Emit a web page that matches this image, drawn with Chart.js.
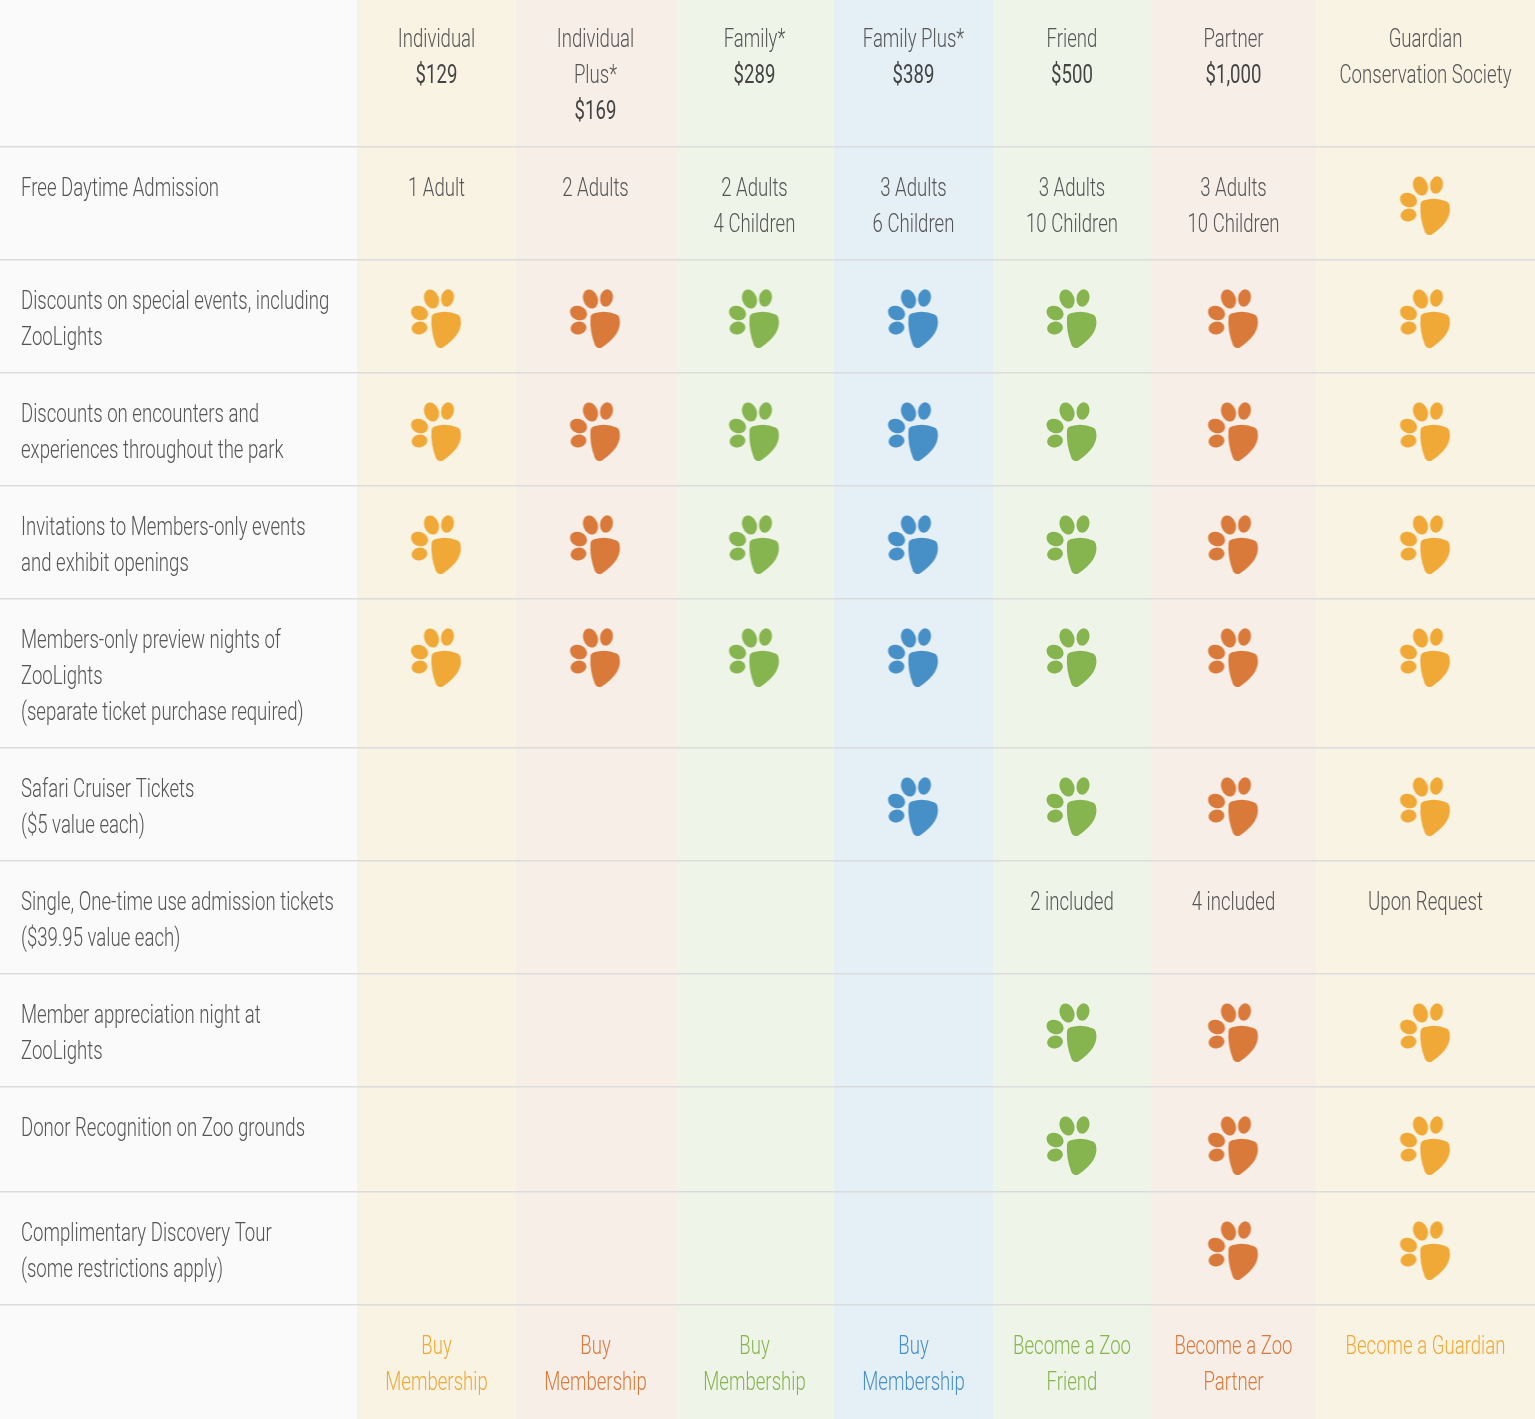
<!DOCTYPE html>
<html>
<head>
<meta charset="utf-8">
<script src="https://cdn.jsdelivr.net/npm/chart.js@4.4.1/dist/chart.umd.min.js"></script>
<style>
  body { margin: 0; background: #fafafa; }
  #tbl { display: block; }
</style>
</head>
<body>
<canvas id="tbl" width="1535" height="1419"></canvas>
<script>
// membership tiers (columns)
const tierNames = [['Individual'], ['Individual', 'Plus*'], ['Family*'], ['Family Plus*'], ['Friend'], ['Partner'], ['Guardian', 'Conservation Society']]
const tierPrices = ['$129', '$169', '$289', '$389', '$500', '$1,000', '']
const tierColors = ['#f0a936', '#d97a3a', '#86b54f', '#4690c7', '#86b54f', '#d97a3a', '#f0a936']
const tierBgs = ['#f9f3e4', '#f7eee8', '#eff4e9', '#e5eff6', '#eff4e9', '#f7eee8', '#f9f3e4']

// benefit rows
const features = [
  ['Free Daytime Admission'],
  ['Discounts on special events, including', 'ZooLights'],
  ['Discounts on encounters and', 'experiences throughout the park'],
  ['Invitations to Members-only events', 'and exhibit openings'],
  ['Members-only preview nights of', 'ZooLights', '(separate ticket purchase required)'],
  ['Safari Cruiser Tickets', '($5 value each)'],
  ['Single, One-time use admission tickets', '($39.95 value each)'],
  ['Member appreciation night at', 'ZooLights'],
  ['Donor Recognition on Zoo grounds'],
  ['Complimentary Discovery Tour', '(some restrictions apply)']
]

// true = paw icon, string = text, '' = empty
const cells = [
  ['1 Adult', '2 Adults', '2 Adults\n4 Children', '3 Adults\n6 Children', '3 Adults\n10 Children', '3 Adults\n10 Children', true],
  [true, true, true, true, true, true, true],
  [true, true, true, true, true, true, true],
  [true, true, true, true, true, true, true],
  [true, true, true, true, true, true, true],
  ['', '', '', true, true, true, true],
  ['', '', '', '', '2 included', '4 included', 'Upon Request'],
  ['', '', '', '', true, true, true],
  ['', '', '', '', true, true, true],
  ['', '', '', '', '', true, true]
]

const buttons = ['Buy\nMembership', 'Buy\nMembership', 'Buy\nMembership', 'Buy\nMembership', 'Become a Zoo\nFriend', 'Become a Zoo\nPartner', 'Become a Guardian']

// layout (pixels)
const colEdges = [0, 357, 516, 675, 834, 993, 1151, 1316, 1535]
const rowEdges = [0, 147, 260, 373, 486, 599, 748, 861, 974, 1087, 1192, 1305, 1419]
const lineH = 36
const FONT = '"Roboto", "Liberation Sans", sans-serif'
let sx = 0.7

function makePaw(color) {
  let c = document.createElement('canvas')
  c.width = 60; c.height = 62
  let g = c.getContext('2d')
  g.fillStyle = color
  g.strokeStyle = color
  let toes = [[25, 11, 7.2, 9.8, -0.35], [41, 10, 6.4, 8.8, 0.2], [13, 25, 8.8, 7, 0.4], [13, 40, 8, 6.4, -0.2]]
  for (let t of toes) {
    g.beginPath()
    g.ellipse(t[0], t[1], t[2], t[3], t[4], 0, Math.PI * 2)
    g.fill()
  }
  // pad: rounded triangle with a full right lobe
  g.beginPath()
  g.moveTo(30, 30)
  g.quadraticCurveTo(40, 27, 49, 31)
  g.quadraticCurveTo(52, 43, 34, 55)
  g.quadraticCurveTo(29, 42, 30, 30)
  g.closePath()
  g.lineJoin = 'round'
  g.lineWidth = 10
  g.fill()
  g.stroke()
  return c
}

function colCenter(c) { return (colEdges[c + 1] + colEdges[c + 2]) / 2 }

// one dataset of paws per tier
let datasets = []
for (let c = 0; c < tierNames.length; c++) {
  let pts = []
  for (let r = 0; r < cells.length; r++) {
    if (cells[r][c] === true) pts.push({ x: colCenter(c), y: rowEdges[r + 1] + 59 })
  }
  datasets.push({
    label: tierNames[c].join(' '),
    data: pts,
    pointStyle: makePaw(tierColors[c]),
    pointRadius: 26,
    pointHoverRadius: 26,
    clip: false
  })
}

function txt(ctx, s, x, y, align) {
  ctx.save()
  ctx.translate(x, y)
  ctx.scale(sx, 1)
  ctx.textAlign = align
  ctx.textBaseline = 'middle'
  ctx.fillText(s, 0, 0)
  ctx.restore()
}

const tablePlugin = {
  id: 'tablePlugin',
  beforeDatasetsDraw(chart) {
    let ctx = chart.ctx
    let xs = chart.scales.x, ys = chart.scales.y
    let top = ys.getPixelForValue(0), bot = ys.getPixelForValue(1419)
    ctx.save()
    ctx.fillStyle = '#fafafa'
    ctx.fillRect(0, 0, chart.width, chart.height)
    for (let c = 0; c < tierBgs.length; c++) {
      let x0 = xs.getPixelForValue(colEdges[c + 1]), x1 = xs.getPixelForValue(colEdges[c + 2])
      ctx.fillStyle = tierBgs[c]
      ctx.fillRect(x0, top, x1 - x0, bot - top)
    }
    ctx.fillStyle = '#dcdcdc'
    for (let r = 1; r < rowEdges.length - 1; r++) {
      let y = ys.getPixelForValue(rowEdges[r])
      ctx.fillRect(0, Math.round(y) - 1, chart.width, 1.5)
    }

    ctx.font = '300 26px ' + FONT
    sx = 260 / ctx.measureText('Members-only preview nights of').width

    // header
    for (let c = 0; c < tierNames.length; c++) {
      let x = xs.getPixelForValue(colCenter(c))
      let y = ys.getPixelForValue(40)
      ctx.fillStyle = '#555'
      ctx.font = '300 26px ' + FONT
      for (let i = 0; i < tierNames[c].length; i++) txt(ctx, tierNames[c][i], x, y + i * lineH, 'center')
      if (tierPrices[c]) {
        ctx.fillStyle = '#444'
        ctx.font = '400 26px ' + FONT
        txt(ctx, tierPrices[c], x, y + tierNames[c].length * lineH, 'center')
      }
    }

    // feature rows
    ctx.font = '300 26px ' + FONT
    ctx.fillStyle = '#555'
    for (let r = 0; r < features.length; r++) {
      let y = ys.getPixelForValue(rowEdges[r + 1] + 42)
      for (let i = 0; i < features[r].length; i++) txt(ctx, features[r][i], xs.getPixelForValue(21), y + i * lineH, 'left')
      for (let c = 0; c < cells[r].length; c++) {
        let v = cells[r][c]
        if (typeof v === 'string' && v) {
          let lines = v.split('\n')
          for (let i = 0; i < lines.length; i++) txt(ctx, lines[i], xs.getPixelForValue(colCenter(c)), y + i * lineH, 'center')
        }
      }
    }

    // buttons
    let yb = ys.getPixelForValue(rowEdges[rowEdges.length - 2] + 42)
    for (let c = 0; c < buttons.length; c++) {
      ctx.fillStyle = tierColors[c]
      let lines = buttons[c].split('\n')
      for (let i = 0; i < lines.length; i++) txt(ctx, lines[i], xs.getPixelForValue(colCenter(c)), yb + i * lineH, 'center')
    }
    ctx.restore()
  }
}

new Chart(document.getElementById('tbl'), {
  type: 'scatter',
  data: { datasets: datasets },
  options: {
    responsive: false,
    animation: false,
    devicePixelRatio: 1,
    layout: { padding: 0, autoPadding: false },
    plugins: { legend: { display: false }, tooltip: { enabled: false } },
    scales: {
      x: { type: 'linear', min: 0, max: 1535, display: false },
      y: { type: 'linear', min: 0, max: 1419, reverse: true, display: false }
    }
  },
  plugins: [tablePlugin]
})
</script>
</body>
</html>
